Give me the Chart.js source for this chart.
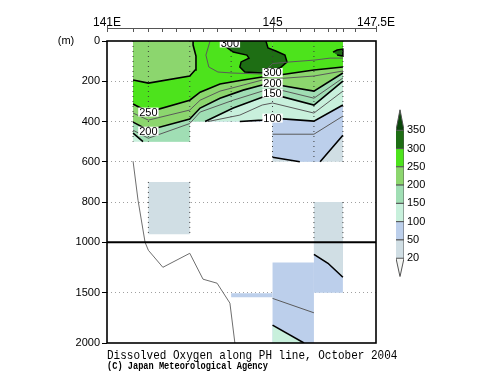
<!DOCTYPE html>
<html><head><meta charset="utf-8">
<script src="https://cdn.jsdelivr.net/npm/chart.js@4.4.1/dist/chart.umd.min.js"></script>
<style>
html,body{margin:0;padding:0;background:#fff;}
#wrap{position:relative;width:500px;height:387px;overflow:hidden;background:#fff;}
#main{position:absolute;left:0;top:0;}
#cbar{position:absolute;left:380px;top:100px;}
.t1{position:absolute;left:107px;top:348.5px;font:13px/13px "Liberation Mono",monospace;white-space:nowrap;color:#000;transform:scaleX(0.846);transform-origin:0 0;}
.t2{position:absolute;left:107px;top:362px;font:bold 10px/10px "Liberation Mono",monospace;white-space:nowrap;color:#000;transform:scaleX(0.865);transform-origin:0 0;}
</style></head><body>
<div id="wrap">
<canvas id="main" width="500" height="387"></canvas>
<canvas id="cbar" width="80" height="190"></canvas>
<div class="t1">Dissolved Oxygen along PH line, October 2004</div>
<div class="t2">(C) Japan Meteorological Agency</div>
</div>
<script>
// ---------------- data ----------------
const LON_MIN = 141, LON_MAX = 147.5;
const axisLabels = [[141, '141E'], [145, '145'], [147.5, '147.5E']];
const stationLon = [141.63, 142, 142.33, 142.67, 143, 143.33, 143.67, 144, 144.33, 144.67, 145, 145.33, 145.67, 146, 146.33, 146.53, 146.7, 147];
const depthTicksUpper = [0, 200, 400, 600, 800, 1000];
const depthTicksLower = [1500, 2000];
const levels = ['20', '50', '100', '150', '200', '250', '300', '350'];
// band index: 0 <20, 1 20-50, 2 50-100, 3 100-150, 4 150-200, 5 200-250, 6 250-300, 7 300-350, 8 >350

// sampled blocks [lonW, lonE, depthTop, depthBottom, base band]
const blocksUpper = [[141.63, 143.0, 0, 500, 3], [143.0, 145.0, 0, 400, 2], [145.0, 146.7, 0, 600, 1], [142.0, 143.0, 700, 960, 1], [146.0, 146.7, 800, 1000, 1]];
const blocksLower = [[146.0, 146.7, 1000, 1500, 2], [145.0, 146.0, 1200, 2000, 2], [144.0, 145.0, 1505, 1545, 2]];

// contours [lon, depth]
const c250top = [[141.63, 194], [142.0, 209], [143.0, 174], [143.13, 144], [143.15, 75], [143.08, 20], [143.08, 0]];
const c250 = [[141.63, 313], [142.0, 353], [143.0, 294], [143.25, 254], [143.73, 214], [144.29, 194], [144.75, 179], [145.0, 174], [146.0, 144], [146.7, 129]];
const c225 = [[141.63, 358], [142.0, 393], [143.0, 343], [143.25, 294], [143.73, 249], [144.29, 219], [144.75, 194], [145.0, 189], [146.0, 174], [146.7, 149]];
const c200 = [[141.63, 403], [142.0, 443], [143.0, 388], [143.25, 333], [143.73, 284], [144.29, 244], [144.75, 219], [145.0, 214], [146.0, 249], [146.7, 159]];
const c175 = [[141.63, 443], [142.0, 483], [143.0, 410], [143.25, 353], [144.05, 294], [144.75, 249], [145.0, 234], [146.0, 284], [146.7, 184]];
const c150 = [[141.63, 458], [141.87, 500], [142.0, 520], [143.0, 520], [143.37, 400], [144.05, 333], [144.75, 279], [145.0, 264], [146.0, 318], [146.7, 199]];
const c125 = [[143.44, 400], [144.21, 368], [144.75, 318], [145.0, 308], [146.0, 358], [146.7, 249]];
const c100 = [[143.0, 540], [144.21, 400], [144.75, 393], [145.0, 383], [146.0, 398], [146.7, 318]];
const c75 = [[145.0, 463], [146.0, 463], [146.7, 373]];
const c50 = [[145.0, 577], [145.66, 600], [145.9, 620], [146.15, 600], [146.7, 468]];
const c275 = [[143.49, 0], [143.39, 70], [143.46, 129], [143.68, 154], [144.02, 159], [144.75, 164], [145.0, 112], [145.42, 104], [146.0, 95], [146.39, 85], [146.7, 85]];
const c300a = [[143.78, 0], [143.88, 30], [144.05, 55], [144.38, 70], [144.43, 85], [144.24, 104], [144.21, 129], [144.33, 154], [144.75, 159], [145.18, 134], [145.35, 104], [145.30, 70], [145.08, 50], [144.89, 35], [144.84, 0]];
const c300b = [[146.46, 55], [146.56, 45], [146.7, 40], [146.7, 75], [146.56, 70]];
const c50deep = [[146.0, 1119], [146.34, 1208], [146.7, 1347]];
const c75deep = [[145.0, 1557], [146.0, 1700]];
const c100deep = [[145.0, 1822], [145.76, 2000]];
const bottomProfile = [[141.63, 597], [141.75, 791], [141.92, 1000], [142.0, 1079], [142.35, 1248], [143.0, 1109], [143.32, 1366], [143.66, 1406], [143.97, 1604], [144.09, 2000]];
const sampleColumns = [[141.63, 0, 500], [142.0, 0, 500], [143.0, 0, 500], [144.0, 0, 400], [145.0, 0, 600], [146.0, 0, 600], [146.7, 0, 600], [142.0, 700, 960], [143.0, 700, 960], [146.0, 800, 1000], [146.7, 800, 1000]];
const contourLabels = [[142.0, 353, '250'], [142.0, 448, '200'], [145.0, 157, '300'], [145.0, 209, '200'], [145.0, 259, '150'], [145.0, 383, '100'], [143.97, 10, '300']];

// ---------------- styles ----------------
const bandColors = ['#f4f6f4', '#d0dee4', '#bccfeb', '#c8f0dc', '#a0deb4', '#8cd66e', '#4de31c', '#1e6e14', '#0a460a'];
const FONT = '"Liberation Sans", Arial, Helvetica, sans-serif';
const THICK = '#000', THIN = '#5a5a5a';

// ---------------- helpers ----------------
const bottomOf = lon => lon <= 143.001 ? 500 : (lon < 144.999 ? 400 : 600);
const P = arr => arr.map(([x, y]) => ({x, y}));
const strokePts = line => line.map(([x, d]) => ({x, y: d > bottomOf(x) + 0.5 ? null : d}));
function abovePoly(line, blk) {
  const [x0, x1, top, bot] = blk;
  const pts = line.filter(([x]) => x >= x0 - 1e-6 && x <= x1 + 1e-6)
    .map(([x, d]) => ({x, y: Math.min(Math.max(d, top), bot)}));
  pts.push({x: x1, y: top}, {x: x0, y: top});
  return pts;
}
const rect = ([x0, x1, d0, d1]) => [{x: x0, y: d0}, {x: x1, y: d0}, {x: x1, y: d1}, {x: x0, y: d1}];

const ds = [];
function addFill(pts, band, axis, stroke) {
  ds.push({data: pts, yAxisID: axis, xAxisID: 'x', fill: 'shape', backgroundColor: bandColors[band],
    borderColor: stroke ? THICK : 'rgba(0,0,0,0)', borderWidth: stroke ? 1.5 : 0, pointRadius: 0, tension: 0});
}
function addLine(pts, color, width, axis, dash) {
  ds.push({data: pts, yAxisID: axis, xAxisID: 'x', fill: false, borderColor: color, borderWidth: width,
    borderDash: dash || [], pointRadius: 0, tension: 0, spanGaps: false});
}

blocksUpper.forEach(b => addFill(rect(b), b[4], 'yU'));
blocksLower.forEach(b => addFill(rect(b), b[4], 'yL'));
const [A, B, C] = blocksUpper;
addFill(abovePoly(c50, C), 2, 'yU');
[B, C].forEach(blk => addFill(abovePoly(c100, blk), 3, 'yU'));
[A, B, C].forEach(blk => addFill(abovePoly(c150, blk), 4, 'yU'));
[A, B, C].forEach(blk => addFill(abovePoly(c200, blk), 5, 'yU'));
[A, B, C].forEach(blk => addFill(abovePoly(c250, blk), 6, 'yU'));
addFill(P(c250top).concat([{x: A[0], y: 0}]), 5, 'yU');
addFill(P(c300a), 7, 'yU', true);
addFill(P(c300b), 7, 'yU', true);
addFill(P(c50deep).concat([{x: 146.7, y: 1000}, {x: 146.0, y: 1000}]), 1, 'yL');
addFill(P(c100deep).concat([{x: 145.0, y: 2000}]), 3, 'yL');
sampleColumns.forEach(([x, d0, d1]) => addLine([{x, y: d0}, {x, y: d1}], '#3a3a3a', 1, 'yU', [1, 4]));
[c275, c225, c175, c125, c75].forEach(c => addLine(strokePts(c), THIN, 1, 'yU'));
addLine(P(c75deep), THIN, 1, 'yL');
[c250top, c250, c200, c150, c100, c50].forEach(c => addLine(strokePts(c), THICK, 1.6, 'yU'));
addLine(P(c50deep), THICK, 1.6, 'yL');
addLine(P(c100deep), THICK, 1.6, 'yL');
addLine(P(bottomProfile.filter(p => p[1] <= 1000)), '#6e6e6e', 1, 'yU');
addLine(P(bottomProfile.filter(p => p[1] >= 1000)), '#6e6e6e', 1, 'yL');
ds.reverse();

const deco = {
  id: 'deco',
  afterDatasetsDraw(chart) {
    const {ctx, chartArea: a, scales: {x, yU}} = chart;
    ctx.save();
    ctx.beginPath(); ctx.rect(a.left, a.top, a.width, a.height); ctx.clip();
    ctx.font = '11px ' + FONT; ctx.textAlign = 'center'; ctx.textBaseline = 'middle';
    for (const [lon, d, t] of contourLabels) {
      const px = x.getPixelForValue(lon), py = yU.getPixelForValue(d);
      const w = ctx.measureText(t).width + 2;
      ctx.fillStyle = '#fff'; ctx.fillRect(px - w / 2, py - 4.5, w, 9);
      ctx.fillStyle = '#000'; ctx.fillText(t, px, py + 0.5);
    }
    ctx.restore();
    ctx.save();
    ctx.strokeStyle = '#000'; ctx.lineWidth = 1.6;
    ctx.strokeRect(a.left, a.top, a.width, a.height);
    const y1000 = yU.getPixelForValue(1000);
    ctx.lineWidth = 2; ctx.beginPath(); ctx.moveTo(a.left, y1000); ctx.lineTo(a.right, y1000); ctx.stroke();
    const ya = a.top - 13;
    ctx.strokeStyle = '#555'; ctx.lineWidth = 1; ctx.beginPath();
    ctx.moveTo(x.getPixelForValue(LON_MIN), ya + 0.5); ctx.lineTo(x.getPixelForValue(LON_MAX), ya + 0.5);
    for (const s of stationLon) { const px = Math.round(x.getPixelForValue(s)) + 0.5; ctx.moveTo(px, ya); ctx.lineTo(px, ya + 4); }
    for (const [v] of axisLabels) { const px = Math.round(x.getPixelForValue(v)) + 0.5; ctx.moveTo(px, ya - 2); ctx.lineTo(px, ya + 4); }
    ctx.stroke();
    ctx.fillStyle = '#000'; ctx.font = '12px ' + FONT; ctx.textAlign = 'center'; ctx.textBaseline = 'alphabetic';
    for (const [v, t] of axisLabels) ctx.fillText(t, x.getPixelForValue(v), ya - 2);
    ctx.font = '11px ' + FONT; ctx.textBaseline = 'middle';
    ctx.fillText('(m)', 66, yU.getPixelForValue(0));
    ctx.restore();
  }
};

const gridColor = ctx => (ctx.tick && (ctx.tick.value === 0 || ctx.tick.value === 1000 || ctx.tick.value === 2000)) ? 'rgba(0,0,0,0)' : '#a0a0a0';
const yCommon = {
  type: 'linear', position: 'left', stack: 'depth', reverse: true,
  afterFit: s => { s.width = 107; },
  ticks: {font: {family: FONT, size: 11}, color: '#000', padding: 2, autoSkip: false, callback: v => String(v)},
  grid: {color: gridColor, tickColor: '#000', tickLength: 5, lineWidth: 1},
  border: {display: false, dash: [1, 3]}
};

new Chart(document.getElementById('main'), {
  type: 'line',
  data: {datasets: ds},
  options: {
    responsive: false, animation: false, events: [],
    layout: {padding: {left: 0, right: 124, top: 41, bottom: 44}},
    plugins: {legend: {display: false}, tooltip: {enabled: false}},
    scales: {
      x: {type: 'linear', min: LON_MIN, max: LON_MAX, display: false},
      yL: Object.assign({}, yCommon, {min: 1000, max: 2000, stackWeight: 1,
        afterBuildTicks: s => { s.ticks = depthTicksLower.map(v => ({value: v})); }}),
      yU: Object.assign({}, yCommon, {min: 0, max: 1000, stackWeight: 2,
        afterBuildTicks: s => { s.ticks = depthTicksUpper.map(v => ({value: v})); }})
    }
  },
  plugins: [deco]
});

const TRI = 1.13;
const cbDs = [];
for (let i = 0; i < levels.length - 1; i++) {
  cbDs.push({data: [{x: 0, y: i}, {x: 1, y: i}, {x: 1, y: i + 1}, {x: 0, y: i + 1}], fill: 'shape',
    backgroundColor: bandColors[i + 1], borderColor: '#555', borderWidth: 1, pointRadius: 0});
}
const nTop = levels.length - 1;
cbDs.push({data: [{x: 0, y: nTop}, {x: 0.5, y: nTop + TRI}, {x: 1, y: nTop}], fill: 'shape',
  backgroundColor: bandColors[8], borderColor: '#555', borderWidth: 1, pointRadius: 0});
cbDs.push({data: [{x: 0, y: 0}, {x: 0.5, y: -TRI + 0.12}, {x: 1, y: 0}], fill: 'shape',
  backgroundColor: bandColors[0], borderColor: '#555', borderWidth: 1, pointRadius: 0});

new Chart(document.getElementById('cbar'), {
  type: 'line',
  data: {datasets: cbDs},
  options: {
    responsive: false, animation: false, events: [],
    layout: {padding: {left: 16, right: 26, top: 7.3, bottom: 13.3}},
    plugins: {legend: {display: false}, tooltip: {enabled: false}},
    scales: {
      x: {type: 'linear', min: 0, max: 1, display: false},
      y: {type: 'linear', position: 'right', min: -TRI + 0.12, max: nTop + TRI,
        afterBuildTicks: s => { s.ticks = levels.map((_, i) => ({value: i})); },
        afterFit: s => { s.width = 30; },
        ticks: {font: {family: FONT, size: 11}, color: '#000', padding: 3, callback: v => levels[v]},
        grid: {display: false, drawTicks: false}, border: {display: false}}
    }
  }
});
</script>
</body></html>
